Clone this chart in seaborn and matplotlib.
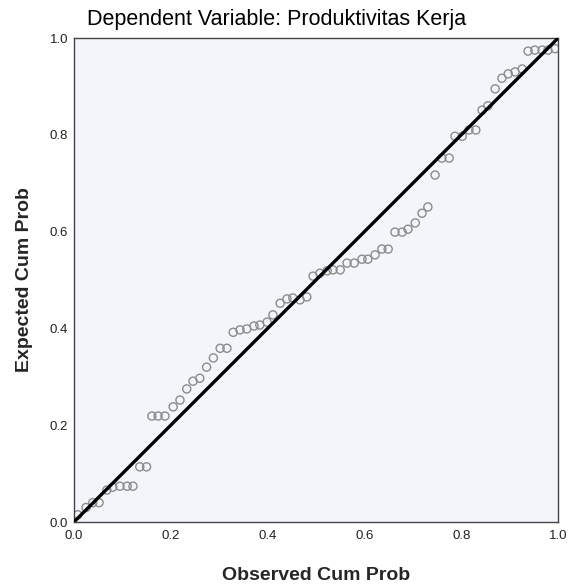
import seaborn as sns
import matplotlib.pyplot as plt
import pandas as pd

# Observed vs expected cumulative probabilities
observed = [0.008, 0.025, 0.039, 0.052, 0.068, 0.080, 0.095, 0.110, 0.122, 0.136,
            0.150, 0.161, 0.174, 0.188, 0.205, 0.219, 0.233, 0.246, 0.260, 0.274,
            0.288, 0.302, 0.316, 0.329, 0.343, 0.357, 0.372, 0.384, 0.399, 0.411,
            0.426, 0.440, 0.452, 0.467, 0.481, 0.494, 0.508, 0.523, 0.535, 0.550,
            0.564, 0.579, 0.595, 0.607, 0.622, 0.636, 0.649, 0.663, 0.678, 0.690,
            0.705, 0.719, 0.731, 0.746, 0.760, 0.775, 0.787, 0.802, 0.816, 0.830,
            0.843, 0.855, 0.870, 0.884, 0.897, 0.911, 0.926, 0.938, 0.952, 0.967,
            0.979, 0.994]
expected = [0.015, 0.030, 0.040, 0.040, 0.066, 0.072, 0.074, 0.074, 0.074, 0.114,
            0.114, 0.219, 0.219, 0.219, 0.238, 0.252, 0.275, 0.291, 0.297, 0.320,
            0.339, 0.359, 0.359, 0.392, 0.397, 0.399, 0.405, 0.407, 0.413, 0.428,
            0.452, 0.461, 0.463, 0.459, 0.465, 0.508, 0.514, 0.519, 0.521, 0.521,
            0.535, 0.535, 0.543, 0.543, 0.552, 0.564, 0.564, 0.599, 0.599, 0.605,
            0.618, 0.638, 0.651, 0.717, 0.752, 0.752, 0.797, 0.797, 0.810, 0.810,
            0.851, 0.860, 0.895, 0.917, 0.926, 0.930, 0.936, 0.973, 0.975, 0.975,
            0.975, 0.978]
ref_line = [0.0, 1.0]
ticks = [0.0, 0.2, 0.4, 0.6, 0.8, 1.0]

df = pd.DataFrame({'observed': observed, 'expected': expected})

sns.set_theme(style="white")
plt.rcParams['font.family'] = ['Liberation Sans', 'DejaVu Sans']

fig = plt.figure(figsize=(5.73, 5.87), dpi=100)
ax = fig.add_axes([0.129, 0.1107, 0.845, 0.8245])
ax.set_facecolor('#F2F5FA')

sns.scatterplot(data=df, x='observed', y='expected', ax=ax, s=34,
                facecolors='none', edgecolor='#8C8C8C', linewidth=1.0, zorder=2)
sns.lineplot(x=ref_line, y=ref_line, ax=ax, color='black', linewidth=2.4, zorder=3)

ax.set_xlim(0, 1)
ax.set_ylim(0, 1)
ax.set_xticks(ticks)
ax.set_yticks(ticks)
ax.set_xticklabels([f'{t:.1f}' for t in ticks])
ax.set_yticklabels([f'{t:.1f}' for t in ticks])
ax.tick_params(length=0, labelsize=9.5, colors='#222222')
ax.tick_params(axis='x', pad=6)
ax.tick_params(axis='y', pad=4)
for spine in ax.spines.values():
    spine.set_color('#444444')
    spine.set_linewidth(1.0)

ax.set_xlabel('Observed Cum Prob', fontsize=14, fontweight='bold', labelpad=18)
ax.set_ylabel('Expected Cum Prob', fontsize=14, fontweight='bold', labelpad=12)
fig.suptitle('Dependent Variable: Produktivitas Kerja', x=0.482, y=0.967,
             va='center', fontsize=15.5, color='black')

fig.savefig('out.png', dpi=100)
